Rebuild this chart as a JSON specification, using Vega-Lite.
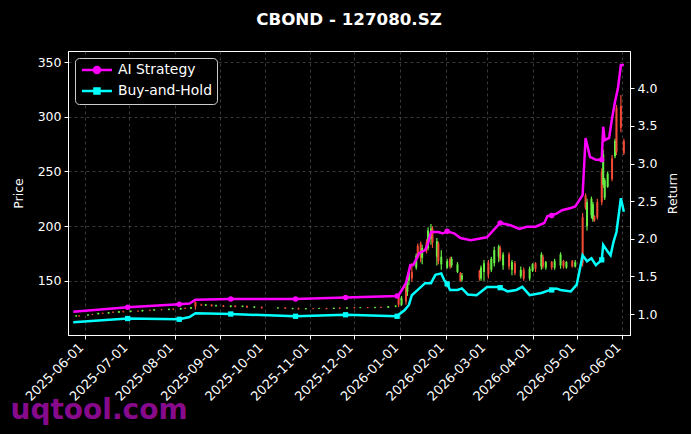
{
  "$schema": "https://vega.github.io/schema/vega-lite/v6.json",
  "background": "black",
  "width": 562,
  "height": 284,
  "autosize": "none",
  "padding": {"left": 68, "top": 51, "right": 61, "bottom": 99},
  "title": {"text": "CBOND - 127080.SZ", "color": "white", "fontSize": 16.7, "fontWeight": "bold", "font": "DejaVu Sans", "anchor": "middle", "frame": "group", "offset": 22},
  "config": {
    "font": "DejaVu Sans",
    "view": {"stroke": "white", "strokeWidth": 1},
    "axis": {"domainColor": "white", "tickColor": "white", "labelColor": "white", "titleColor": "white", "labelFontSize": 12.5, "titleFontSize": 12.5, "titleFontWeight": "normal", "tickSize": 4, "labelPadding": 3, "gridColor": "#666666", "gridDash": [3, 3], "gridOpacity": 0.7, "gridWidth": 0.8, "labelFlush": false, "labelOverlap": false},
    "legend": {"orient": "top-left", "offset": 7, "fillColor": "#000000", "strokeColor": "#cccccc", "cornerRadius": 4, "padding": 5, "labelColor": "white", "labelFontSize": 13.9, "labelOffset": 14, "symbolSize": 100, "symbolOffset": 10, "symbolStrokeWidth": 2.5, "rowPadding": 5}
  },
  "datasets": {
    "candles": [
      {"d": "2025-05-26", "o": 117.5, "h": 118.5, "l": 116.8, "c": 118.0},
      {"d": "2025-05-28", "o": 117.8, "h": 118.6, "l": 117.2, "c": 117.4},
      {"d": "2025-06-03", "o": 118.2, "h": 119.3, "l": 117.9, "c": 119.0},
      {"d": "2025-06-06", "o": 119.0, "h": 119.8, "l": 118.6, "c": 118.8},
      {"d": "2025-06-10", "o": 119.3, "h": 120.6, "l": 119.0, "c": 120.4},
      {"d": "2025-06-13", "o": 120.2, "h": 121.0, "l": 119.5, "c": 119.8},
      {"d": "2025-06-17", "o": 120.0, "h": 121.5, "l": 119.8, "c": 121.2},
      {"d": "2025-06-20", "o": 121.0, "h": 122.0, "l": 120.4, "c": 120.6},
      {"d": "2025-06-24", "o": 120.8, "h": 122.3, "l": 120.5, "c": 122.0},
      {"d": "2025-06-27", "o": 121.8, "h": 122.5, "l": 121.0, "c": 121.3},
      {"d": "2025-07-02", "o": 121.5, "h": 122.8, "l": 121.2, "c": 122.5},
      {"d": "2025-07-07", "o": 122.3, "h": 123.0, "l": 121.6, "c": 121.9},
      {"d": "2025-07-10", "o": 122.0, "h": 123.5, "l": 121.8, "c": 123.2},
      {"d": "2025-07-15", "o": 123.0, "h": 123.6, "l": 122.2, "c": 122.6},
      {"d": "2025-07-18", "o": 122.8, "h": 124.0, "l": 122.5, "c": 123.8},
      {"d": "2025-07-23", "o": 123.5, "h": 124.2, "l": 122.9, "c": 123.1},
      {"d": "2025-07-28", "o": 123.3, "h": 124.5, "l": 123.0, "c": 124.2},
      {"d": "2025-07-31", "o": 124.0, "h": 124.8, "l": 123.2, "c": 123.6},
      {"d": "2025-08-05", "o": 123.8, "h": 125.2, "l": 123.5, "c": 125.0},
      {"d": "2025-08-08", "o": 124.8, "h": 125.5, "l": 124.0, "c": 124.3},
      {"d": "2025-08-12", "o": 124.5, "h": 126.0, "l": 124.2, "c": 125.8},
      {"d": "2025-08-15", "o": 130.5, "h": 131.0, "l": 123.5, "c": 126.5},
      {"d": "2025-08-19", "o": 128.2, "h": 129.0, "l": 127.0, "c": 127.4},
      {"d": "2025-08-22", "o": 127.5, "h": 128.6, "l": 126.9, "c": 128.3},
      {"d": "2025-08-26", "o": 128.0, "h": 128.5, "l": 126.5, "c": 126.8},
      {"d": "2025-08-29", "o": 126.8, "h": 128.0, "l": 126.2, "c": 127.6},
      {"d": "2025-09-03", "o": 127.2, "h": 127.8, "l": 125.9, "c": 126.2},
      {"d": "2025-09-08", "o": 126.0, "h": 127.5, "l": 125.6, "c": 127.2},
      {"d": "2025-09-11", "o": 127.0, "h": 127.6, "l": 125.8, "c": 126.1},
      {"d": "2025-09-16", "o": 126.2, "h": 127.4, "l": 125.8, "c": 127.0},
      {"d": "2025-09-19", "o": 126.8, "h": 127.2, "l": 125.2, "c": 125.5},
      {"d": "2025-09-24", "o": 125.5, "h": 126.6, "l": 125.0, "c": 126.3},
      {"d": "2025-09-29", "o": 126.0, "h": 126.5, "l": 124.6, "c": 124.9},
      {"d": "2025-10-10", "o": 124.8, "h": 125.8, "l": 124.3, "c": 125.5},
      {"d": "2025-10-15", "o": 125.3, "h": 125.7, "l": 124.0, "c": 124.3},
      {"d": "2025-10-20", "o": 124.2, "h": 125.2, "l": 123.8, "c": 124.9},
      {"d": "2025-10-24", "o": 124.8, "h": 125.3, "l": 123.6, "c": 123.9},
      {"d": "2025-10-29", "o": 124.0, "h": 125.0, "l": 123.7, "c": 124.7},
      {"d": "2025-11-03", "o": 124.6, "h": 125.1, "l": 123.9, "c": 124.2},
      {"d": "2025-11-07", "o": 124.3, "h": 125.2, "l": 124.0, "c": 124.9},
      {"d": "2025-11-12", "o": 124.8, "h": 125.2, "l": 123.8, "c": 124.1},
      {"d": "2025-11-17", "o": 124.2, "h": 125.4, "l": 124.0, "c": 125.1},
      {"d": "2025-11-21", "o": 125.0, "h": 125.6, "l": 124.2, "c": 124.5},
      {"d": "2025-11-26", "o": 124.6, "h": 125.8, "l": 124.3, "c": 125.5},
      {"d": "2025-12-01", "o": 125.4, "h": 125.9, "l": 124.6, "c": 124.9},
      {"d": "2025-12-05", "o": 125.0, "h": 125.9, "l": 124.7, "c": 125.6},
      {"d": "2025-12-10", "o": 125.5, "h": 126.0, "l": 124.8, "c": 125.1},
      {"d": "2025-12-15", "o": 125.2, "h": 126.2, "l": 124.9, "c": 125.9},
      {"d": "2025-12-19", "o": 125.8, "h": 126.4, "l": 125.0, "c": 125.3},
      {"d": "2025-12-24", "o": 125.4, "h": 126.8, "l": 125.1, "c": 126.5},
      {"d": "2025-12-29", "o": 126.3, "h": 127.5, "l": 125.8, "c": 127.2},
      {"d": "2025-12-31", "o": 135, "h": 137, "l": 126, "c": 128},
      {"d": "2026-01-02", "o": 128, "h": 136, "l": 127, "c": 134},
      {"d": "2026-01-05", "o": 144, "h": 146, "l": 128, "c": 131},
      {"d": "2026-01-06", "o": 140, "h": 150, "l": 136, "c": 148},
      {"d": "2026-01-07", "o": 150, "h": 160, "l": 146, "c": 157},
      {"d": "2026-01-09", "o": 158, "h": 166, "l": 149, "c": 152},
      {"d": "2026-01-12", "o": 162, "h": 175, "l": 160, "c": 173},
      {"d": "2026-01-13", "o": 182, "h": 184, "l": 170, "c": 172},
      {"d": "2026-01-15", "o": 184, "h": 186, "l": 167, "c": 171},
      {"d": "2026-01-16", "o": 171, "h": 183, "l": 165, "c": 180},
      {"d": "2026-01-19", "o": 185, "h": 188, "l": 175, "c": 178},
      {"d": "2026-01-20", "o": 180, "h": 199, "l": 178, "c": 196},
      {"d": "2026-01-22", "o": 188, "h": 202, "l": 183, "c": 198},
      {"d": "2026-01-23", "o": 198, "h": 200, "l": 180, "c": 185},
      {"d": "2026-01-26", "o": 172, "h": 189, "l": 164, "c": 186},
      {"d": "2026-01-27", "o": 184, "h": 186, "l": 165, "c": 168},
      {"d": "2026-01-29", "o": 165, "h": 178, "l": 160, "c": 172},
      {"d": "2026-02-02", "o": 162, "h": 170, "l": 161, "c": 168},
      {"d": "2026-02-04", "o": 170, "h": 172, "l": 161, "c": 163},
      {"d": "2026-02-05", "o": 164, "h": 172, "l": 162, "c": 170},
      {"d": "2026-02-09", "o": 158, "h": 167, "l": 157, "c": 165},
      {"d": "2026-02-11", "o": 157, "h": 158, "l": 149, "c": 150},
      {"d": "2026-02-12", "o": 151, "h": 157, "l": 149, "c": 155},
      {"d": "2026-02-24", "o": 159, "h": 160, "l": 150, "c": 152},
      {"d": "2026-02-25", "o": 152, "h": 164, "l": 150, "c": 162},
      {"d": "2026-02-27", "o": 158, "h": 169, "l": 150, "c": 166},
      {"d": "2026-03-02", "o": 166, "h": 169, "l": 152, "c": 156},
      {"d": "2026-03-04", "o": 160, "h": 172, "l": 158, "c": 170},
      {"d": "2026-03-06", "o": 166, "h": 181, "l": 163, "c": 178},
      {"d": "2026-03-09", "o": 172, "h": 183, "l": 167, "c": 181},
      {"d": "2026-03-10", "o": 180, "h": 182, "l": 168, "c": 170},
      {"d": "2026-03-12", "o": 164, "h": 176, "l": 160, "c": 174},
      {"d": "2026-03-16", "o": 174, "h": 176, "l": 160, "c": 163},
      {"d": "2026-03-18", "o": 160, "h": 169, "l": 155, "c": 167},
      {"d": "2026-03-20", "o": 166, "h": 168, "l": 155, "c": 157},
      {"d": "2026-03-24", "o": 154, "h": 163, "l": 152, "c": 160},
      {"d": "2026-03-26", "o": 160, "h": 162, "l": 150, "c": 152},
      {"d": "2026-03-30", "o": 152, "h": 163, "l": 150, "c": 161},
      {"d": "2026-04-01", "o": 159, "h": 166, "l": 158, "c": 165},
      {"d": "2026-04-03", "o": 166, "h": 167, "l": 158, "c": 161},
      {"d": "2026-04-07", "o": 163, "h": 176, "l": 160, "c": 174},
      {"d": "2026-04-08", "o": 172, "h": 174, "l": 161, "c": 163},
      {"d": "2026-04-10", "o": 162, "h": 168, "l": 160, "c": 167},
      {"d": "2026-04-14", "o": 167, "h": 168, "l": 160, "c": 162},
      {"d": "2026-04-16", "o": 162, "h": 170, "l": 160, "c": 168},
      {"d": "2026-04-20", "o": 164, "h": 176, "l": 161, "c": 174},
      {"d": "2026-04-22", "o": 168, "h": 169, "l": 161, "c": 163},
      {"d": "2026-04-24", "o": 162, "h": 168, "l": 161, "c": 167},
      {"d": "2026-04-28", "o": 168, "h": 169, "l": 162, "c": 163},
      {"d": "2026-04-30", "o": 163, "h": 169, "l": 162, "c": 167},
      {"d": "2026-05-05", "o": 208, "h": 212, "l": 163, "c": 166},
      {"d": "2026-05-07", "o": 228, "h": 230, "l": 215, "c": 217},
      {"d": "2026-05-08", "o": 200, "h": 225, "l": 196, "c": 222},
      {"d": "2026-05-11", "o": 210, "h": 227, "l": 207, "c": 225},
      {"d": "2026-05-12", "o": 206, "h": 222, "l": 204, "c": 220},
      {"d": "2026-05-13", "o": 209, "h": 210, "l": 204, "c": 205},
      {"d": "2026-05-15", "o": 222, "h": 225, "l": 206, "c": 208},
      {"d": "2026-05-18", "o": 250, "h": 253, "l": 219, "c": 222},
      {"d": "2026-05-19", "o": 238, "h": 270, "l": 235, "c": 266},
      {"d": "2026-05-20", "o": 226, "h": 244, "l": 224, "c": 242},
      {"d": "2026-05-22", "o": 236, "h": 250, "l": 235, "c": 248},
      {"d": "2026-05-25", "o": 262, "h": 265, "l": 241, "c": 243},
      {"d": "2026-05-27", "o": 264, "h": 280, "l": 262, "c": 278},
      {"d": "2026-05-28", "o": 308, "h": 311, "l": 265, "c": 268},
      {"d": "2026-05-31", "o": 310, "h": 320, "l": 286, "c": 290},
      {"d": "2026-06-02", "o": 278, "h": 280, "l": 265, "c": 267}
    ],
    "lines": [
      {"d": "2025-05-24", "s": "AI Strategy", "v": 1.03},
      {"d": "2025-06-30", "s": "AI Strategy", "v": 1.09},
      {"d": "2025-08-04", "s": "AI Strategy", "v": 1.13},
      {"d": "2025-08-11", "s": "AI Strategy", "v": 1.14},
      {"d": "2025-08-15", "s": "AI Strategy", "v": 1.19},
      {"d": "2025-09-08", "s": "AI Strategy", "v": 1.20},
      {"d": "2025-10-22", "s": "AI Strategy", "v": 1.20},
      {"d": "2025-11-25", "s": "AI Strategy", "v": 1.22},
      {"d": "2025-12-30", "s": "AI Strategy", "v": 1.24},
      {"d": "2025-12-31", "s": "AI Strategy", "v": 1.25},
      {"d": "2026-01-05", "s": "AI Strategy", "v": 1.41},
      {"d": "2026-01-08", "s": "AI Strategy", "v": 1.65},
      {"d": "2026-01-10", "s": "AI Strategy", "v": 1.65},
      {"d": "2026-01-14", "s": "AI Strategy", "v": 1.81},
      {"d": "2026-01-18", "s": "AI Strategy", "v": 1.85},
      {"d": "2026-01-20", "s": "AI Strategy", "v": 1.94},
      {"d": "2026-01-22", "s": "AI Strategy", "v": 2.09},
      {"d": "2026-01-27", "s": "AI Strategy", "v": 2.09},
      {"d": "2026-01-30", "s": "AI Strategy", "v": 2.07},
      {"d": "2026-02-02", "s": "AI Strategy", "v": 2.10},
      {"d": "2026-02-07", "s": "AI Strategy", "v": 2.07},
      {"d": "2026-02-11", "s": "AI Strategy", "v": 2.01},
      {"d": "2026-02-18", "s": "AI Strategy", "v": 1.98},
      {"d": "2026-03-01", "s": "AI Strategy", "v": 2.02},
      {"d": "2026-03-10", "s": "AI Strategy", "v": 2.21},
      {"d": "2026-03-17", "s": "AI Strategy", "v": 2.18},
      {"d": "2026-03-23", "s": "AI Strategy", "v": 2.13},
      {"d": "2026-03-28", "s": "AI Strategy", "v": 2.16},
      {"d": "2026-04-03", "s": "AI Strategy", "v": 2.16},
      {"d": "2026-04-09", "s": "AI Strategy", "v": 2.21},
      {"d": "2026-04-11", "s": "AI Strategy", "v": 2.30},
      {"d": "2026-04-17", "s": "AI Strategy", "v": 2.33},
      {"d": "2026-04-21", "s": "AI Strategy", "v": 2.38},
      {"d": "2026-04-27", "s": "AI Strategy", "v": 2.41},
      {"d": "2026-04-30", "s": "AI Strategy", "v": 2.43},
      {"d": "2026-05-05", "s": "AI Strategy", "v": 2.58},
      {"d": "2026-05-07", "s": "AI Strategy", "v": 3.34},
      {"d": "2026-05-10", "s": "AI Strategy", "v": 3.09},
      {"d": "2026-05-14", "s": "AI Strategy", "v": 3.05},
      {"d": "2026-05-18", "s": "AI Strategy", "v": 3.05},
      {"d": "2026-05-19", "s": "AI Strategy", "v": 3.49},
      {"d": "2026-05-20", "s": "AI Strategy", "v": 3.31},
      {"d": "2026-05-23", "s": "AI Strategy", "v": 3.34},
      {"d": "2026-05-25", "s": "AI Strategy", "v": 3.60},
      {"d": "2026-05-27", "s": "AI Strategy", "v": 3.82},
      {"d": "2026-05-29", "s": "AI Strategy", "v": 4.00},
      {"d": "2026-05-31", "s": "AI Strategy", "v": 4.31},
      {"d": "2026-06-02", "s": "AI Strategy", "v": 4.31},
      {"d": "2025-05-24", "s": "Buy-and-Hold", "v": 0.89},
      {"d": "2025-06-30", "s": "Buy-and-Hold", "v": 0.94},
      {"d": "2025-08-04", "s": "Buy-and-Hold", "v": 0.93},
      {"d": "2025-08-11", "s": "Buy-and-Hold", "v": 0.96},
      {"d": "2025-08-15", "s": "Buy-and-Hold", "v": 1.01},
      {"d": "2025-09-08", "s": "Buy-and-Hold", "v": 1.00},
      {"d": "2025-10-22", "s": "Buy-and-Hold", "v": 0.97},
      {"d": "2025-11-25", "s": "Buy-and-Hold", "v": 0.99},
      {"d": "2025-12-30", "s": "Buy-and-Hold", "v": 0.97},
      {"d": "2025-12-31", "s": "Buy-and-Hold", "v": 0.99},
      {"d": "2026-01-04", "s": "Buy-and-Hold", "v": 1.05},
      {"d": "2026-01-07", "s": "Buy-and-Hold", "v": 1.12},
      {"d": "2026-01-09", "s": "Buy-and-Hold", "v": 1.25},
      {"d": "2026-01-13", "s": "Buy-and-Hold", "v": 1.32},
      {"d": "2026-01-18", "s": "Buy-and-Hold", "v": 1.41},
      {"d": "2026-01-22", "s": "Buy-and-Hold", "v": 1.41},
      {"d": "2026-01-25", "s": "Buy-and-Hold", "v": 1.52},
      {"d": "2026-01-29", "s": "Buy-and-Hold", "v": 1.54},
      {"d": "2026-01-31", "s": "Buy-and-Hold", "v": 1.45},
      {"d": "2026-02-02", "s": "Buy-and-Hold", "v": 1.40},
      {"d": "2026-02-04", "s": "Buy-and-Hold", "v": 1.32},
      {"d": "2026-02-09", "s": "Buy-and-Hold", "v": 1.32},
      {"d": "2026-02-12", "s": "Buy-and-Hold", "v": 1.34},
      {"d": "2026-02-16", "s": "Buy-and-Hold", "v": 1.26},
      {"d": "2026-02-22", "s": "Buy-and-Hold", "v": 1.25},
      {"d": "2026-03-01", "s": "Buy-and-Hold", "v": 1.36},
      {"d": "2026-03-08", "s": "Buy-and-Hold", "v": 1.36},
      {"d": "2026-03-10", "s": "Buy-and-Hold", "v": 1.35},
      {"d": "2026-03-15", "s": "Buy-and-Hold", "v": 1.30},
      {"d": "2026-03-21", "s": "Buy-and-Hold", "v": 1.32},
      {"d": "2026-03-25", "s": "Buy-and-Hold", "v": 1.36},
      {"d": "2026-03-30", "s": "Buy-and-Hold", "v": 1.25},
      {"d": "2026-04-07", "s": "Buy-and-Hold", "v": 1.28},
      {"d": "2026-04-13", "s": "Buy-and-Hold", "v": 1.32},
      {"d": "2026-04-17", "s": "Buy-and-Hold", "v": 1.34},
      {"d": "2026-04-20", "s": "Buy-and-Hold", "v": 1.32},
      {"d": "2026-04-27", "s": "Buy-and-Hold", "v": 1.30},
      {"d": "2026-05-01", "s": "Buy-and-Hold", "v": 1.39},
      {"d": "2026-05-05", "s": "Buy-and-Hold", "v": 1.78},
      {"d": "2026-05-08", "s": "Buy-and-Hold", "v": 1.70},
      {"d": "2026-05-11", "s": "Buy-and-Hold", "v": 1.74},
      {"d": "2026-05-14", "s": "Buy-and-Hold", "v": 1.65},
      {"d": "2026-05-18", "s": "Buy-and-Hold", "v": 1.72},
      {"d": "2026-05-19", "s": "Buy-and-Hold", "v": 1.92},
      {"d": "2026-05-22", "s": "Buy-and-Hold", "v": 1.83},
      {"d": "2026-05-24", "s": "Buy-and-Hold", "v": 1.78},
      {"d": "2026-05-26", "s": "Buy-and-Hold", "v": 1.96},
      {"d": "2026-05-28", "s": "Buy-and-Hold", "v": 2.09},
      {"d": "2026-05-31", "s": "Buy-and-Hold", "v": 2.54},
      {"d": "2026-06-02", "s": "Buy-and-Hold", "v": 2.36}
    ],
    "markers": [
      {"d": "2025-06-30", "s": "AI Strategy", "v": 1.09},
      {"d": "2025-08-04", "s": "AI Strategy", "v": 1.13},
      {"d": "2025-09-08", "s": "AI Strategy", "v": 1.20},
      {"d": "2025-10-22", "s": "AI Strategy", "v": 1.20},
      {"d": "2025-11-25", "s": "AI Strategy", "v": 1.22},
      {"d": "2025-12-30", "s": "AI Strategy", "v": 1.24},
      {"d": "2026-02-02", "s": "AI Strategy", "v": 2.10},
      {"d": "2026-03-10", "s": "AI Strategy", "v": 2.21},
      {"d": "2026-04-14", "s": "AI Strategy", "v": 2.31},
      {"d": "2026-05-18", "s": "AI Strategy", "v": 3.05},
      {"d": "2025-06-30", "s": "Buy-and-Hold", "v": 0.94},
      {"d": "2025-08-04", "s": "Buy-and-Hold", "v": 0.93},
      {"d": "2025-09-08", "s": "Buy-and-Hold", "v": 1.00},
      {"d": "2025-10-22", "s": "Buy-and-Hold", "v": 0.97},
      {"d": "2025-11-25", "s": "Buy-and-Hold", "v": 0.99},
      {"d": "2025-12-30", "s": "Buy-and-Hold", "v": 0.97},
      {"d": "2026-02-02", "s": "Buy-and-Hold", "v": 1.40},
      {"d": "2026-03-10", "s": "Buy-and-Hold", "v": 1.35},
      {"d": "2026-04-14", "s": "Buy-and-Hold", "v": 1.32},
      {"d": "2026-05-18", "s": "Buy-and-Hold", "v": 1.72}
    ]
  },
  "encoding": {
    "x": {
      "field": "d", "type": "temporal",
      "scale": {"type": "utc", "domain": [{"year": 2025, "month": 5, "date": 23, "hours": 20, "utc": true}, {"year": 2026, "month": 6, "date": 2, "hours": 19, "utc": true}]},
      "axis": {
        "format": "%Y-%m-%d", "labelAngle": -45, "labelAlign": "right", "labelBaseline": "middle", "labelPadding": 6, "labelOffset": -4, "labelFontSize": 13, "labelOverlap": false,
        "grid": true,
        "values": [
          {"year": 2025, "month": 6, "date": 1, "utc": true},
          {"year": 2025, "month": 7, "date": 1, "utc": true},
          {"year": 2025, "month": 8, "date": 1, "utc": true},
          {"year": 2025, "month": 9, "date": 1, "utc": true},
          {"year": 2025, "month": 10, "date": 1, "utc": true},
          {"year": 2025, "month": 11, "date": 1, "utc": true},
          {"year": 2025, "month": 12, "date": 1, "utc": true},
          {"year": 2026, "month": 1, "date": 1, "utc": true},
          {"year": 2026, "month": 2, "date": 1, "utc": true},
          {"year": 2026, "month": 3, "date": 1, "utc": true},
          {"year": 2026, "month": 4, "date": 1, "utc": true},
          {"year": 2026, "month": 5, "date": 1, "utc": true},
          {"year": 2026, "month": 6, "date": 1, "utc": true}
        ],
        "title": "uqtool.com", "titleColor": "#870a8c", "titleFontSize": 28, "titleFontWeight": "bold", "titleAlign": "left", "titleBaseline": "alphabetic", "titleAnchor": "start", "titleX": -58, "titleY": 83
      }
    }
  },
  "layer": [
    {
      "data": {"name": "candles"},
      "layer": [
        {
          "mark": {"type": "rule", "strokeWidth": 1.2},
          "encoding": {
            "y": {"field": "l", "type": "quantitative", "scale": {"domain": [100.3, 360.3], "zero": false, "nice": false},
              "axis": {"title": "Price", "orient": "left", "values": [150, 200, 250, 300, 350], "grid": true, "titlePadding": 12}},
            "y2": {"field": "h"},
            "color": {"condition": {"test": "datum.c >= datum.o", "value": "#66ee44"}, "value": "#f04a36"}
          }
        },
        {
          "mark": {"type": "bar", "size": 2},
          "encoding": {
            "y": {"field": "o", "type": "quantitative", "scale": {"domain": [100.3, 360.3], "zero": false, "nice": false}},
            "y2": {"field": "c"},
            "color": {"condition": {"test": "datum.c >= datum.o", "value": "#66ee44"}, "value": "#f04a36"}
          }
        }
      ]
    },
    {
      "layer": [
        {
          "data": {"name": "lines"},
          "mark": {"type": "line", "strokeWidth": 2.5},
          "encoding": {
            "y": {"field": "v", "type": "quantitative", "scale": {"domain": [0.721, 4.496], "zero": false, "nice": false},
              "axis": {"title": "Return", "orient": "right", "values": [1.0, 1.5, 2.0, 2.5, 3.0, 3.5, 4.0], "format": ".1f", "grid": false, "titlePadding": 10, "titleAngle": 270, "titleBaseline": "top"}},
            "color": {
              "field": "s", "type": "nominal",
              "scale": {"domain": ["AI Strategy", "Buy-and-Hold"], "range": ["#ff00ff", "#00ffff"]},
              "legend": {
                "title": null,
                "symbolType": "M-3,0H3",
                "encode": {"symbols": {"update": {
                  "shape": {"signal": "datum.value === 'AI Strategy' ? 'M-3,0H3M-0.6,0A0.6,0.6 0 1,1 0.6,0A0.6,0.6 0 1,1 -0.6,0Z' : 'M-3,0H3M-0.5,-0.5H0.5V0.5H-0.5Z'"},
                  "fill": {"scale": "color", "field": "value"}
                }}}
              }
            }
          }
        },
        {
          "data": {"name": "markers"},
          "transform": [{"filter": "datum.s === 'AI Strategy'"}],
          "mark": {"type": "point", "shape": "circle", "filled": true, "size": 30, "color": "#ff00ff", "opacity": 1},
          "encoding": {"y": {"field": "v", "type": "quantitative", "scale": {"domain": [0.721, 4.496], "zero": false, "nice": false}}}
        },
        {
          "data": {"name": "markers"},
          "transform": [{"filter": "datum.s === 'Buy-and-Hold'"}],
          "mark": {"type": "point", "shape": "square", "filled": true, "size": 28, "color": "#00ffff", "opacity": 1},
          "encoding": {"y": {"field": "v", "type": "quantitative", "scale": {"domain": [0.721, 4.496], "zero": false, "nice": false}}}
        }
      ]
    }
  ],
  "resolve": {"scale": {"y": "independent"}}
}
